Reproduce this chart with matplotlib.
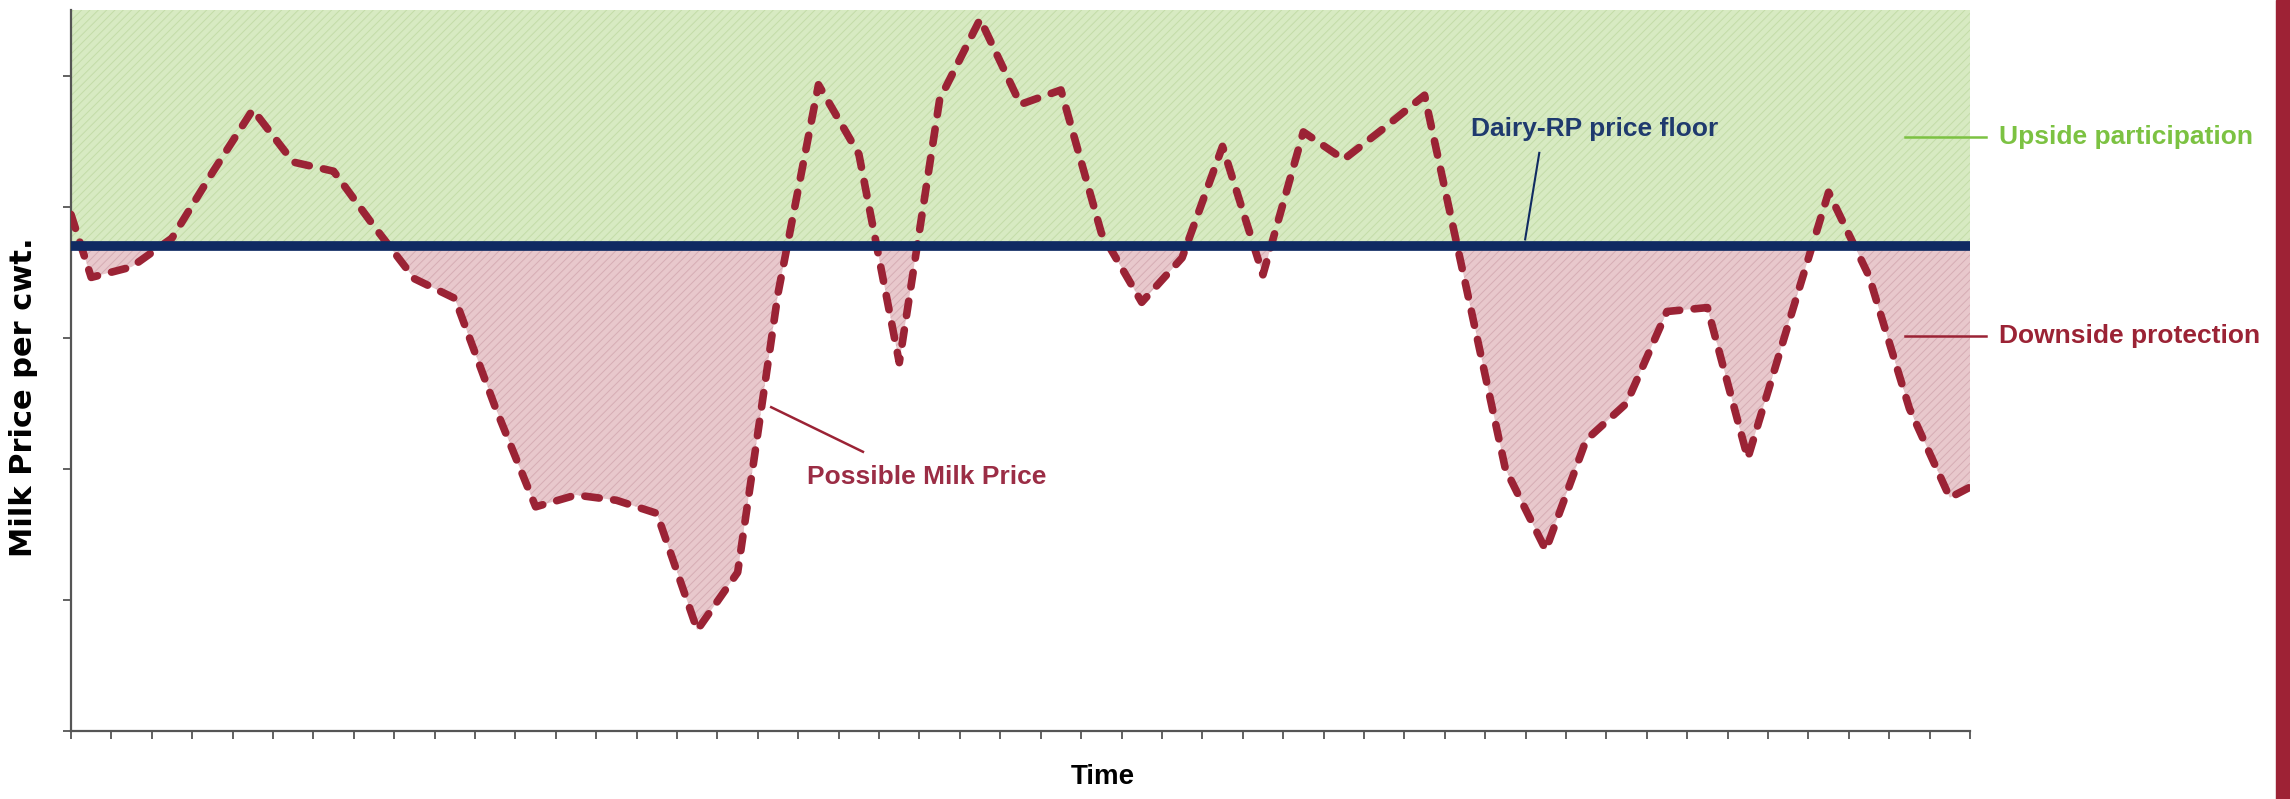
import numpy as np
import matplotlib.pyplot as plt

# months along the time axis (points sit between the ticks)
time = np.concatenate([[0.0], np.arange(47) + 0.5, [47.0]])
milk_price = [3.94,
              3.46, 3.54, 3.76, 4.26, 4.74, 4.34, 4.27, 3.85, 3.45, 3.30,
              2.47, 1.71, 1.80, 1.76, 1.66, 0.77, 1.21, 3.34, 4.93, 4.40,
              2.81, 4.82, 5.43, 4.78, 4.89, 3.80, 3.27, 3.61, 4.46, 3.48,
              4.57, 4.36, 4.60, 4.85, 3.43, 2.00, 1.38, 2.22, 2.50, 3.20,
              3.23, 2.08, 3.10, 4.11, 3.47, 2.46, 1.78,
              1.86]
price_floor = 3.70
y_top = 5.5

RED = '#9b2335'
NAVY = '#0f2a62'
GREEN_TXT = '#7cc242'
LABEL_FONT = ['Liberation Sans', 'DejaVu Sans']

plt.rcParams['hatch.linewidth'] = 0.7

fig = plt.figure(figsize=(22.9, 7.99), dpi=100)
ax = fig.add_axes([71 / 2290, 1 - 731 / 799, 1899 / 2290, 721 / 799])

price = np.array(milk_price)

# upside area (everything above the floor)
ax.fill_between([0, 47], price_floor, y_top, facecolor='#d7eac2',
                edgecolor='#c3dca8', hatch='////', linewidth=0, zorder=1)
# downside area (between the price and the floor)
ax.fill_between(time, price, price_floor, where=price < price_floor,
                interpolate=True, facecolor='#e8c8cc', edgecolor='#d6adb4',
                hatch='////', linewidth=0, zorder=1)

ax.plot(time, price, color=RED, lw=5.5, linestyle=(0, (1.9, 1.9)),
        dash_capstyle='round', zorder=3)
ax.axhline(price_floor, color=NAVY, lw=7, zorder=4)

ax.set_xlim(0, 47)
ax.set_ylim(0, y_top)
ax.set_xticks(np.arange(48))
ax.set_yticks(np.arange(6))
ax.set_xticklabels([])
ax.set_yticklabels([])
ax.tick_params(length=6, width=1.3, color='#555555')
for side in ['top', 'right']:
    ax.spines[side].set_visible(False)
for side in ['left', 'bottom']:
    ax.spines[side].set_color('#555555')
    ax.spines[side].set_linewidth(1.6)

# annotations
ax.plot([35.99, 36.34], [3.75, 4.41], color=NAVY, lw=1.5, zorder=5)
ax.text(34.65, 4.59, 'Dairy-RP price floor', color='#1f3a6e', fontsize=19,
        fontweight='bold', family=LABEL_FONT, va='center', ha='left')

ax.plot([45.4, 47.4], [4.53, 4.53], color=GREEN_TXT, lw=1.8, clip_on=False)
ax.text(47.72, 4.53, 'Upside participation', color=GREEN_TXT, fontsize=19,
        fontweight='bold', family=LABEL_FONT, va='center', ha='left')

ax.plot([45.4, 47.4], [3.01, 3.01], color=RED, lw=1.8, clip_on=False)
ax.text(47.72, 3.01, 'Downside protection', color=RED, fontsize=19,
        fontweight='bold', family=LABEL_FONT, va='center', ha='left')

ax.plot([17.33, 19.6], [2.47, 2.13], color=RED, lw=1.8, zorder=5)
ax.text(18.22, 1.94, 'Possible Milk Price', color='#9b2d45', fontsize=19,
        fontweight='bold', family=LABEL_FONT, va='center', ha='left')

ax.text(25.54, -0.35, 'Time', color='black', fontsize=20, fontweight='bold',
        family=LABEL_FONT, va='center', ha='center', clip_on=False)
fig.text(24 / 2290, 1 - 397 / 799, 'Milk Price per cwt.', rotation=90,
         fontsize=22, fontweight='bold', va='center', ha='center')

# dark red bar at the right edge
fig.patches.append(plt.Rectangle((2276 / 2290, 0), 14 / 2290, 1,
                                 transform=fig.transFigure, color='#9e2235'))

fig.savefig('out.png', dpi=100)
